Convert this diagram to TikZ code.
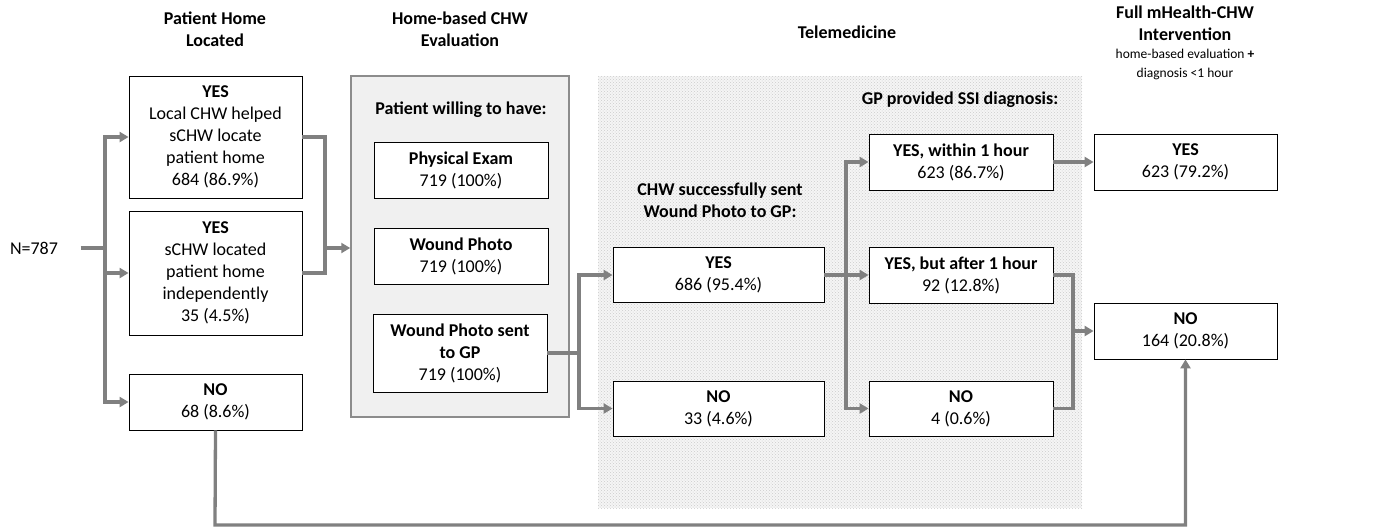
\documentclass[tikz,border=0pt]{standalone}
\usepackage{fontspec}
\setmainfont{Carlito}
\usepackage{tikz}
\usetikzlibrary{arrows.meta,patterns}
\definecolor{flowgray}{HTML}{808080}
\definecolor{panelgray}{HTML}{F0F0F0}
\definecolor{panelline}{HTML}{8C8C8C}

\begin{document}
\begin{tikzpicture}[x=1pt, y=-1pt,
	box/.style={draw=black, line width=0.8pt, fill=white, align=center, inner sep=0pt,
		font=\fontsize{18}{22}\selectfont},
	heading/.style={align=center, font=\bfseries\fontsize{18}{22}\selectfont},
	flow/.style={draw=flowgray, line width=3.3pt, -{Triangle[length=9pt,width=10pt]}},
	flowline/.style={draw=flowgray, line width=3.3pt}]
	\useasboundingbox (0,0) rectangle (1380,528);
	% column headings
	\node[heading] (hlocated) at (215,29) {Patient Home\\Located};
	\node[heading] (heval) at (460,29) {Home-based CHW\\Evaluation};
	\node[heading] (htele) at (847,32) {Telemedicine};
	\node[heading] (hfull) at (1185,23) {Full mHealth-CHW\\Intervention};
	\node[align=center, font=\fontsize{13.5}{19}\selectfont] (hfullsub) at (1185,64) {home-based evaluation \textbf{+}\\diagnosis <1 hour};
	% telemedicine region
	\fill[white!96!black] (598,76) rectangle (1082,508);
	\fill[pattern=crosshatch dots, pattern color=gray!40] (598,76) rectangle (1082,508);
	% home-based evaluation panel
	\node[draw=panelline, fill=panelgray, line width=1.5pt, minimum width=218pt, minimum height=341pt, inner sep=0pt] (evalbox) at (460,246.5) {};
	% boxes
	\node (n787) at (34,248) {\fontsize{18}{22}\selectfont N=787};
	\node[box, minimum width=173pt, minimum height=122pt] (yes1) at (215.5,137) {\textbf{YES}\\Local CHW helped\\sCHW locate\\patient home\\684 (86.9\%)};
	\node[box, minimum width=173pt, minimum height=124pt] (yes2) at (215.5,273) {\textbf{YES}\\sCHW located\\patient home\\independently\\35 (4.5\%)};
	\node[box, minimum width=173pt, minimum height=56pt] (no1) at (215.5,402) {\textbf{NO}\\68 (8.6\%)};
	\node[heading] (hwilling) at (461,110) {Patient willing to have:};
	\node[box, minimum width=174pt, minimum height=56pt] (physical) at (461,170) {\textbf{Physical Exam}\\719 (100\%)};
	\node[box, minimum width=174pt, minimum height=56pt] (photo) at (461,256) {\textbf{Wound Photo}\\719 (100\%)};
	\node[box, minimum width=174pt, minimum height=78pt] (photosent) at (460,353) {\textbf{Wound Photo sent}\\\textbf{to GP}\\719 (100\%)};
	\node[heading] (hsent) at (720,200) {CHW successfully sent\\Wound Photo to GP:};
	\node[box, minimum width=211pt, minimum height=55pt] (yes686) at (718.5,275) {\textbf{YES}\\686 (95.4\%)};
	\node[box, minimum width=211pt, minimum height=55pt] (no33) at (718.5,408.5) {\textbf{NO}\\33 (4.6\%)};
	\node[heading] (hgp) at (960,100) {GP provided SSI diagnosis:};
	\node[box, minimum width=184pt, minimum height=56pt] (within) at (961,162) {\textbf{YES, within 1 hour}\\623 (86.7\%)};
	\node[box, minimum width=184pt, minimum height=56pt] (after) at (961,275) {\textbf{YES, but after 1 hour}\\92 (12.8\%)};
	\node[box, minimum width=184pt, minimum height=55pt] (no4) at (961,408.5) {\textbf{NO}\\4 (0.6\%)};
	\node[box, minimum width=183pt, minimum height=56pt] (finyes) at (1185.5,162) {\textbf{YES}\\623 (79.2\%)};
	\node[box, minimum width=183pt, minimum height=56pt] (finno) at (1185.5,331) {\textbf{NO}\\164 (20.8\%)};
	% junctions
	\coordinate (split1) at (105,248);
	\coordinate (merge1) at (325,248);
	\coordinate (split2) at (579,353);
	\coordinate (split3) at (846,275);
	\coordinate (merge2) at (1073,331);
	\coordinate (bottom) at (215,525);
	% connectors
	\draw[flowline] ([xshift=19pt]n787.east) -- (split1);
	\draw[flow] (split1) |- (yes1.west);
	\draw[flow] (split1) |- (yes2.west);
	\draw[flow] (split1) |- (no1.west);
	\draw[flowline] (yes1.east) -| (merge1);
	\draw[flowline] (yes2.east) -| (merge1);
	\draw[flow] (merge1) -- (evalbox.west |- merge1);
	\draw[flowline] (photosent.east) -- (split2);
	\draw[flow] (split2) |- (yes686.west);
	\draw[flow] (split2) |- (no33.west);
	\draw[flow] (yes686.east) -- (after.west);
	\draw[flow] (split3) |- (within.west);
	\draw[flow] (split3) |- (no4.west);
	\draw[flow] (within.east) -- (finyes.west);
	\draw[flowline] (after.east) -| (merge2);
	\draw[flowline] (no4.east) -| (merge2);
	\draw[flow] (merge2) -- (finno.west);
	\draw[flow] (no1.south) -- (bottom) -| (finno.south);
\end{tikzpicture}
\end{document}
